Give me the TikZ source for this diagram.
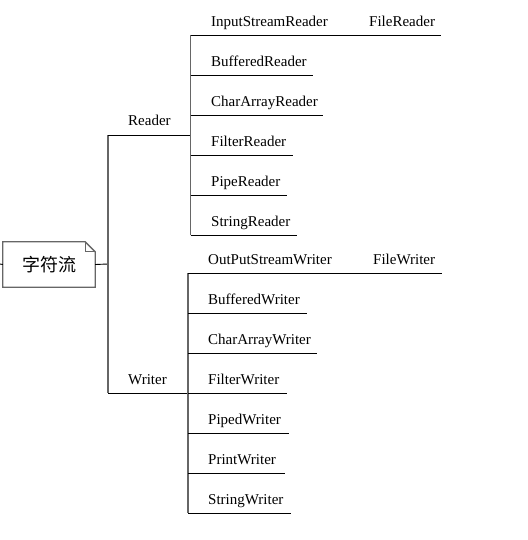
\documentclass[tikz,border=0pt]{standalone}
\usepackage{fontspec}
\setmainfont{Liberation Serif}
\newfontfamily\cjk{Noto Sans CJK SC}
\begin{document}
\begin{tikzpicture}[x=1pt,y=-1pt,
  lbl/.style={anchor=base west, inner sep=0pt, font=\fontsize{15}{17}\selectfont},
  hl/.style={black, line width=0.9pt},
  vl/.style={gray!80!black, line width=1.3pt}]
\useasboundingbox (0,0) rectangle (527,540);
% root
\node[minimum width=92pt, minimum height=45pt, inner sep=0pt, font=\cjk\fontsize{18}{20}\selectfont] (root) at (49,264.5) {字符流};
\draw[gray!80!black, line width=1.3pt] (root.north west) -- ([xshift=-10pt]root.north east) -- ([yshift=-10pt]root.north east) -- (root.south east) -- (root.south west) -- cycle;
\draw[gray!80!black, line width=0.8pt] ([xshift=-10pt]root.north east) -- ([xshift=-10pt,yshift=-10pt]root.north east) -- ([yshift=-10pt]root.north east);
\coordinate (stub) at (0,264);
\draw[hl] (stub) -- (root.west);
% trunk
\coordinate (j0) at (108,264);
\coordinate (jr) at (108,135.3);
\coordinate (jw) at (108,393.3);
\draw[hl] (root.east) -- (j0);
\draw[vl] (jr) -- (jw);
% Reader branch
\coordinate (rtop) at (190.5,35);
\coordinate (rmid) at (190.5,135.3);
\coordinate (rbot) at (190.5,235.3);
\draw[hl] (jr) -- (rmid);
\node[lbl] (reader) at (128,126) {Reader};
\draw[vl] (rtop) -- (rbot);
\foreach \n/\y/\xe/\t in {r1/35/441/InputStreamReader, r2/75.3/313/BufferedReader, r3/115.3/323/CharArrayReader, r4/155/293/FilterReader, r5/195.3/287/PipeReader, r6/235.3/297/StringReader}{
  \coordinate (\n s) at (190.5,\y);
  \coordinate (\n e) at (\xe,\y);
  \draw[hl] (\n s) -- (\n e);
  \node[lbl] (\n) at (211,\y-8.5) {\t};
}
\node[lbl] (filereader) at (369,26.5) {FileReader};
% Writer branch
\coordinate (wtop) at (188,273.3);
\coordinate (wmid) at (188,393.3);
\coordinate (wbot) at (188,513.3);
\draw[hl] (jw) -- (wmid);
\node[lbl] (writer) at (128,384) {Writer};
\draw[vl] (wtop) -- (wbot);
\foreach \n/\y/\xe/\t in {w1/273.3/441.7/OutPutStreamWriter, w2/313.3/306.7/BufferedWriter, w3/353.3/316.7/CharArrayWriter, w4/393.3/286.7/FilterWriter, w5/433.3/288.7/PipedWriter, w6/473.3/284.7/PrintWriter, w7/513.3/290.7/StringWriter}{
  \coordinate (\n s) at (188,\y);
  \coordinate (\n e) at (\xe,\y);
  \draw[hl] (\n s) -- (\n e);
  \node[lbl] (\n) at (208,\y-8.5) {\t};
}
\node[lbl] (filewriter) at (373,264.8) {FileWriter};
\end{tikzpicture}
\end{document}
